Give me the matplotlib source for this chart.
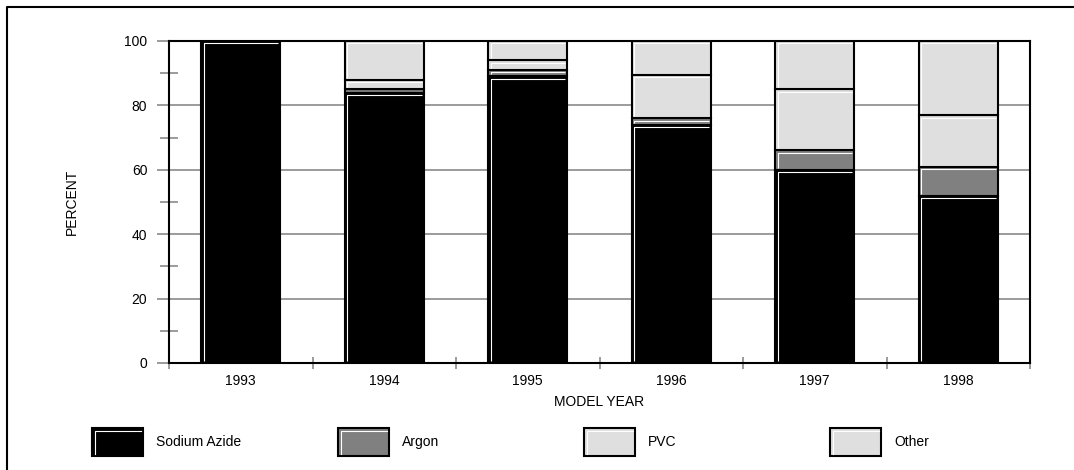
import numpy as np
import matplotlib
matplotlib.use("Agg")
import matplotlib.pyplot as plt
from matplotlib.patches import Rectangle
from matplotlib.lines import Line2D

plt.rcParams['font.family'] = ['Liberation Sans', 'DejaVu Sans']

years = ['1993', '1994', '1995', '1996', '1997', '1998']
series = ['Sodium Azide', 'Argon', 'PVC', 'Other']
sodium_azide = [100, 84, 89, 74, 60, 52]
argon = [0, 1, 2, 2, 6, 9]
pvc = [0, 3, 3, 13.5, 19, 16]
other = [0, 12, 6, 10.5, 15, 23]
y_ticks = [0, 20, 40, 60, 80, 100]

colors = ['#000000', '#808080', '#dfdfdf', '#dfdfdf']
grid_gray = '#808080'

W, H = 1074, 470
fig = plt.figure(figsize=(W / 100, H / 100), dpi=100)
ax_l, ax_r, ax_t, ax_b = 169, 1030, 41, 363
ax = fig.add_axes([ax_l / W, 1 - ax_b / H, (ax_r - ax_l) / W, (ax_b - ax_t) / H])

x = np.arange(len(years))
bar_w = 0.55
ax.set_xlim(-0.5, len(years) - 0.5)
ax.set_ylim(0, 100)

# size of one pixel in data units, for the white bevel line
px_x = len(years) / (ax_r - ax_l)
px_y = 100 / (ax_b - ax_t)

def bevel_bar(x0, bottom, h, color):
    ax.bar(x0, h, bottom=bottom, width=bar_w, color=color, edgecolor='black',
           linewidth=1.5, zorder=2)
    left = x0 - bar_w / 2 + 2.5 * px_x
    right = x0 + bar_w / 2 - 2 * px_x
    top = bottom + h - 2.5 * px_y
    low = bottom + 2 * px_y
    if top > low:
        ax.plot([left, left, right], [low, top, top], color='white', lw=0.8,
                solid_capstyle='butt', zorder=3)

bottoms = np.zeros(len(years))
for vals, col in zip([sodium_azide, argon, pvc, other], colors):
    for i in range(len(years)):
        if vals[i] > 0:
            bevel_bar(x[i], bottoms[i], vals[i], col)
    bottoms += np.array(vals)

# grid and ticks
ax.set_axisbelow(True)
ax.yaxis.grid(True, color=grid_gray, linewidth=1.1)
ax.set_yticks(y_ticks)
ax.set_yticks([10, 30, 50, 70, 90], minor=True)
ax.tick_params(axis='y', which='major', direction='out', length=8.6, width=1.1,
               color=grid_gray, pad=7, labelsize=10)
ax.tick_params(axis='y', which='minor', direction='inout', length=12.5, width=1.1,
               color=grid_gray)

ax.set_xticks(np.arange(len(years) + 1) - 0.5)
ax.set_xticklabels([])
ax.set_xticks(x, minor=True)
ax.set_xticklabels(years, minor=True)
ax.tick_params(axis='x', which='major', direction='inout', length=8, width=1.1,
               color=grid_gray)
ax.tick_params(axis='x', which='minor', length=0, pad=8, labelsize=10)

for sp in ax.spines.values():
    sp.set_linewidth(1.5)
    sp.set_color('black')

ax.set_xlabel('MODEL YEAR', fontsize=10, labelpad=5)
fig.text(72 / W, 1 - 202 / H, 'PERCENT', rotation=90, fontsize=10,
         ha='center', va='center')

# legend drawn as a row of boxes
box_w, box_h = 51, 28
box_top = 428
for i, (name, col) in enumerate(zip(series, colors)):
    bx = 92 + i * 246
    fig.add_artist(Rectangle((bx / W, 1 - (box_top + box_h) / H), box_w / W, box_h / H,
                             transform=fig.transFigure, facecolor=col,
                             edgecolor='black', linewidth=1.5))
    fig.add_artist(Line2D([(bx + 3) / W, (bx + 3) / W, (bx + box_w - 2) / W],
                          [1 - (box_top + box_h - 2) / H, 1 - (box_top + 3) / H, 1 - (box_top + 3) / H],
                          transform=fig.transFigure, color='white', lw=0.8))
    fig.text((bx + 64) / W, 1 - (box_top + box_h / 2) / H, name, fontsize=10,
             ha='left', va='center')

# outer frame (left and top edges visible)
fig.add_artist(Line2D([7 / W, 7 / W, 1.0], [0.0, 1 - 7 / H, 1 - 7 / H],
                      transform=fig.transFigure, color='black', lw=1.5))

fig.savefig('out.png', dpi=100)
